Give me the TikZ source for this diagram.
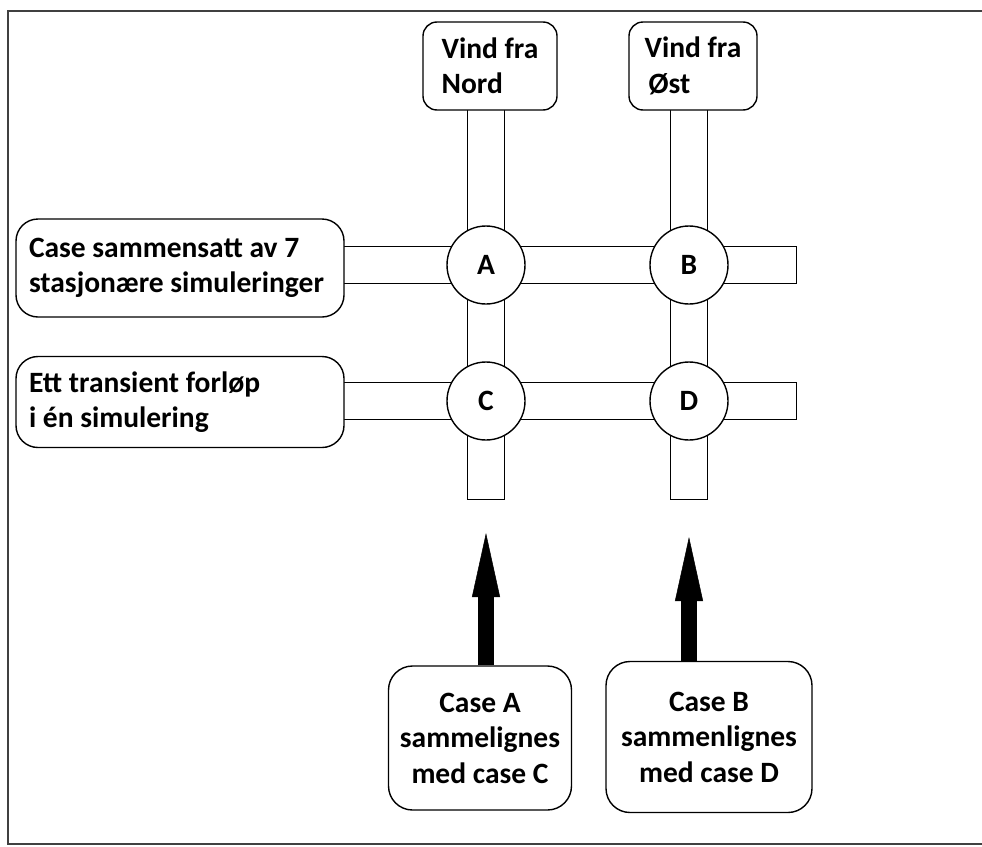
\documentclass[tikz,border=0pt]{standalone}
\usepackage{fontspec}
\setmainfont{Carlito}
\usetikzlibrary{arrows.meta,positioning,backgrounds}
\tikzstyle{bigarrow} = [line width=16pt,-{Triangle[length=64pt,width=28pt,line width=0.5pt]}]

\begin{document}
\begin{tikzpicture}[x=1pt, y=-1pt, font=\fontsize{29.5}{35.5}\selectfont\bfseries,
    junction/.style={draw, circle, fill=white, line width=1.4pt, minimum size=78pt, inner sep=0pt},
    sidebox/.style={draw, fill=white, rounded corners=22pt, line width=1.4pt, align=flush left, text width=302pt, inner xsep=13pt},
    topbox/.style={draw, fill=white, rounded corners=14pt, line width=1.4pt, align=flush left, minimum width=134pt, minimum height=88pt},
    casebox/.style={draw, fill=white, rounded corners=24pt, line width=1.4pt, align=center},
    chan/.style={line width=1.3pt, double, double distance=36pt, line cap=rect}]
  \useasboundingbox (0,0) rectangle (982,846);
  % kryssene
  \node[junction] (A) at (486,265) {A};
  \node[junction] (B) at (689,265) {B};
  \node[junction] (C) at (486,401) {C};
  \node[junction] (D) at (689,401) {D};
  % boksene
  \node[topbox] (nord) at (490,66) {Vind fra\\Nord};
  \node[topbox, minimum width=128pt] (ost) at (693,66) {Vind fra\\\hspace*{4pt}Øst};
  \node[sidebox, minimum height=98pt] (stat) at (180,268) {Case sammensatt av 7\\stasjonære simuleringer};
  \node[sidebox, minimum height=91pt] (trans) at (180,402) {Ett transient forløp\\i én simulering};
  \node[casebox, minimum width=183pt, minimum height=144pt] (cmpAC) at (480,738) {Case A\\sammelignes\\med case C};
  \node[casebox, minimum width=206pt, minimum height=151pt] (cmpBD) at (709,737) {Case B\\sammenlignes\\med case D};
  % endepunkter
  \coordinate (endA) at (486,481);
  \coordinate (endB) at (689,481);
  \coordinate (endAB) at (778,265);
  \coordinate (endCD) at (778,401);
  \coordinate (tipA) at (486,533);
  \coordinate (tipB) at (689,537);
  \begin{scope}[on background layer]
    \draw[line width=2pt, black!75] (982,11) -| (8,844) -- (982,844);
    \draw[chan] (A |- nord.south) -- (endA);
    \draw[chan] (B |- ost.south) -- (endB);
    \draw[chan] (stat.east |- A) -- (endAB);
    \draw[chan] (trans.east |- C) -- (endCD);
  \end{scope}
  \draw[bigarrow] (tipA |- cmpAC.north) -- (tipA);
  \draw[bigarrow] (tipB |- cmpBD.north) -- (tipB);
\end{tikzpicture}
\end{document}
